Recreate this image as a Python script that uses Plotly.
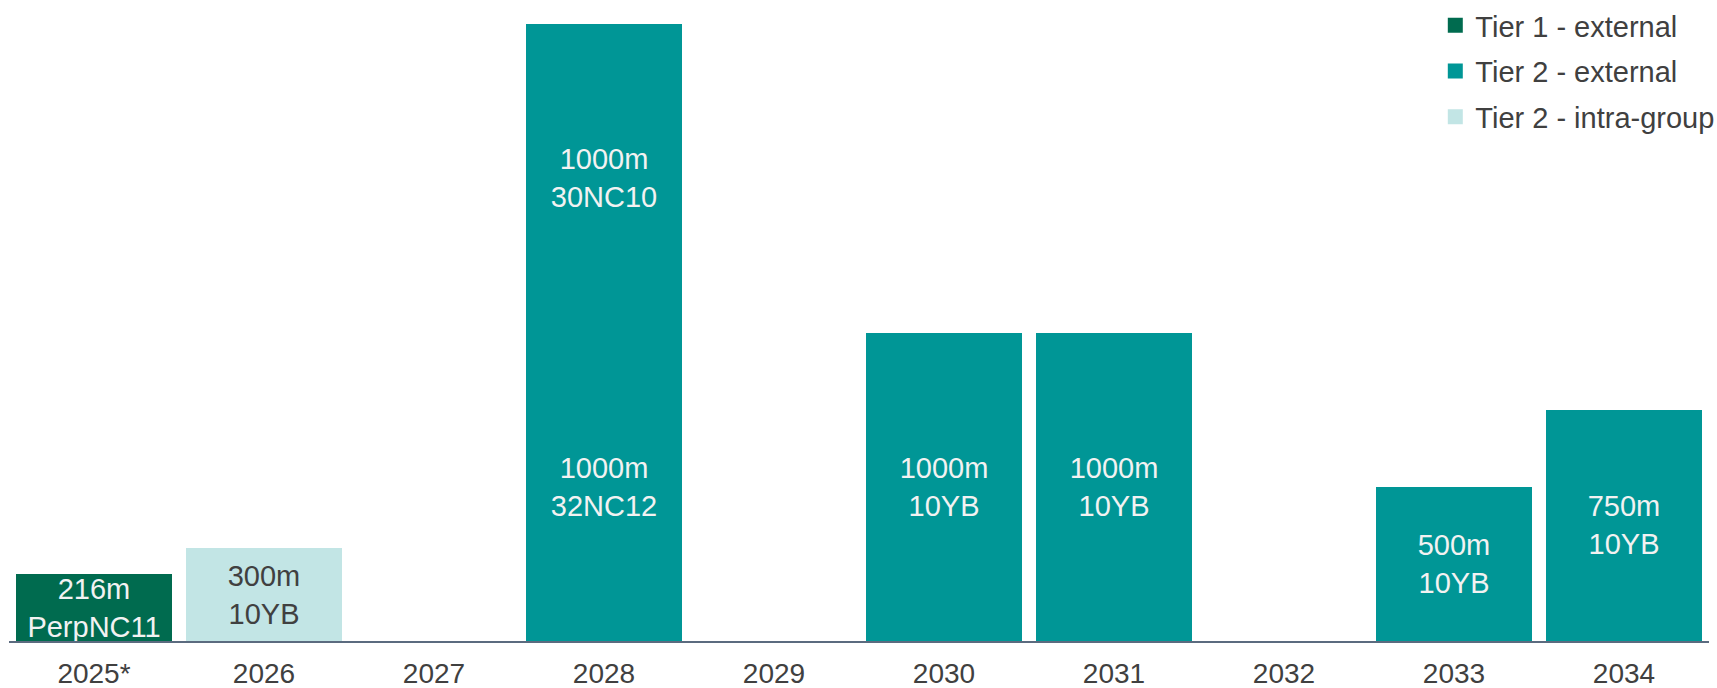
import plotly.graph_objects as go

categories = ["2025*", "2026", "2027", "2028", "2029", "2030", "2031", "2032", "2033", "2034"]

tier1_x = ["2025*"]
tier1_y = [216]
tier1_text = ["216m<br>PerpNC11"]

tier2_intra_x = ["2026"]
tier2_intra_y = [300]
tier2_intra_text = ["300m<br>10YB"]

tier2_ext_x = ["2028", "2030", "2031", "2033", "2034"]
tier2_ext_y = [1000, 1000, 1000, 500, 750]
tier2_ext_text = ["1000m<br>32NC12", "1000m<br>10YB", "1000m<br>10YB", "500m<br>10YB", "750m<br>10YB"]

tier2_ext_top_x = ["2028"]
tier2_ext_top_y = [1000]
tier2_ext_top_text = ["1000m<br>30NC10"]

C_T1 = "#006B4F"
C_T2 = "#009696"
C_T2I = "#C2E5E5"
FONT = "Liberation Sans, Arial, sans-serif"
GREY = "#404040"

fig = go.Figure()

def add_bar(x, y, text, color, tcolor):
    fig.add_trace(go.Bar(
        x=x, y=y, text=text, textposition="inside", insidetextanchor="middle",
        constraintext="none", textangle=0,
        textfont=dict(family=FONT, size=29, color=tcolor),
        marker=dict(color=color, line=dict(width=0)),
        showlegend=False, hoverinfo="skip",
    ))

add_bar(tier1_x, tier1_y, tier1_text, C_T1, "#F2F2F2")
add_bar(tier2_intra_x, tier2_intra_y, tier2_intra_text, C_T2I, GREY)
add_bar(tier2_ext_x, tier2_ext_y, tier2_ext_text, C_T2, "#F2F2F2")
add_bar(tier2_ext_top_x, tier2_ext_top_y, tier2_ext_top_text, C_T2, "#F2F2F2")

legend_names = ["Tier 1 - external", "Tier 2 - external", "Tier 2 - intra-group"]
legend_colors = [C_T1, C_T2, C_T2I]
for i, (n, c) in enumerate(zip(legend_names, legend_colors)):
    fig.add_trace(go.Scatter(
        x=[None], y=[None], mode="markers", name=n, legendgroup=f"g{i}",
        marker=dict(symbol="square", size=15, color=c),
    ))

fig.update_layout(
    width=1717, height=688,
    barmode="stack", bargap=0.088,
    plot_bgcolor="white", paper_bgcolor="white",
    margin=dict(l=9, r=8, t=0, b=47, autoexpand=False),
    font=dict(family=FONT, size=28, color=GREY),
    xaxis=dict(
        type="category", categoryorder="array", categoryarray=categories,
        showline=True, linecolor="#5B6B7F", linewidth=2,
        ticks="outside", ticklen=6, tickcolor="rgba(0,0,0,0)",
        tickfont=dict(family=FONT, size=28, color=GREY),
        showgrid=False, zeroline=False, fixedrange=True, automargin=False,
    ),
    yaxis=dict(range=[0, 2078], visible=False, showgrid=False, zeroline=False, fixedrange=True),
    legend=dict(
        x=0.839, xanchor="left", y=1.0, yanchor="top",
        font=dict(family=FONT, size=29, color=GREY),
        tracegroupgap=5, traceorder="grouped",
        bgcolor="rgba(0,0,0,0)",
    ),
)

fig.write_html("out.html", config={"displayModeBar": False},
               post_script="document.body.style.margin='0';")
